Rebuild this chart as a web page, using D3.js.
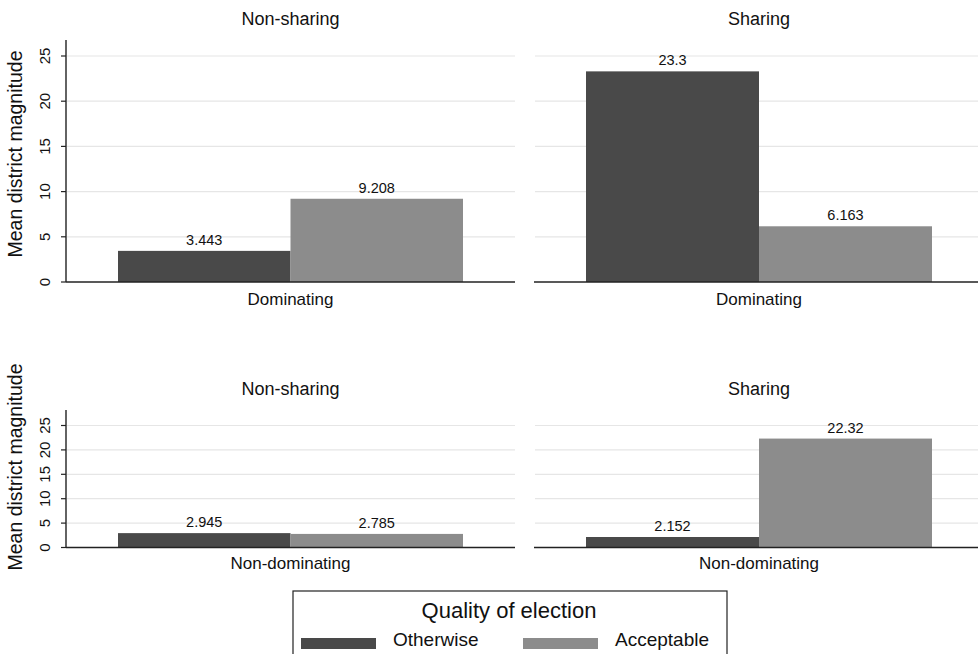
<!DOCTYPE html>
<html>
<head>
<meta charset="utf-8">
<script src="https://cdn.jsdelivr.net/npm/d3@7"></script>
<style>
  body { margin: 0; background: #fff; }
  text { font-family: "Liberation Sans", Arial, sans-serif; fill: #111; }
</style>
</head>
<body>
<div id="chart"></div>
<script>
// data
let rowLabels = ['Dominating', 'Non-dominating'];
let colLabels = ['Non-sharing', 'Sharing'];
let seriesNames = ['Otherwise', 'Acceptable'];
let otherwiseValues = [[3.443, 23.3], [2.945, 2.152]];
let acceptableValues = [[9.208, 6.163], [2.785, 22.32]];
let yTicks = [0, 5, 10, 15, 20, 25];
let valueText = [['3.443', '23.3', '2.945', '2.152'], ['9.208', '6.163', '2.785', '22.32']];

let colors = {'Otherwise': '#494949', 'Acceptable': '#8c8c8c'};

let width = 978, height = 654;
let svg = d3.select('#chart').append('svg').attr('width', width).attr('height', height);

// panel geometry (pixels)
let panelCols = [{x0: 66, x1: 515}, {x0: 534, x1: 984}];
let panelRows = [
  {base: 282, y25: 56, top: 40, title: 24.5, cat: 305, ylab: 154},
  {base: 547.5, y25: 425.5, top: 410, title: 395, cat: 569, ylab: 467}
];
let inner = 52;

panelRows.forEach((pr, ri) => {
  let y = d3.scaleLinear().domain([0, 25]).range([pr.base, pr.y25]);

  // y label
  svg.append('text')
    .attr('transform', 'translate(' + [22, pr.ylab] + ') rotate(-90)')
    .attr('text-anchor', 'middle')
    .style('font-size', '19.5px')
    .text('Mean district magnitude');

  panelCols.forEach((pc, ci) => {
    let g = svg.append('g');
    let x = d3.scaleBand().domain(seriesNames).range([pc.x0 + inner, pc.x1 - inner]).padding(0);

    // grid
    g.selectAll('.grid').data(yTicks.filter(d => d > 0)).enter().append('line')
      .attr('x1', pc.x0 + 1).attr('x2', pc.x1)
      .attr('y1', d => y(d)).attr('y2', d => y(d))
      .attr('stroke', '#e6e6e6').attr('stroke-width', 1.2);

    let vals = [otherwiseValues[ri][ci], acceptableValues[ri][ci]];
    let labs = [valueText[0][ri * 2 + ci], valueText[1][ri * 2 + ci]];

    g.selectAll('.bar').data(seriesNames).enter().append('rect')
      .attr('x', d => x(d))
      .attr('width', x.bandwidth())
      .attr('y', (d, i) => y(vals[i]))
      .attr('height', (d, i) => pr.base - y(vals[i]))
      .attr('fill', d => colors[d]);

    g.selectAll('.val').data(seriesNames).enter().append('text')
      .attr('x', d => x(d) + x.bandwidth() / 2)
      .attr('y', (d, i) => y(vals[i]) - 6)
      .attr('text-anchor', 'middle')
      .style('font-size', '14.5px')
      .text((d, i) => labs[i]);

    // baseline
    g.append('line').attr('x1', pc.x0).attr('x2', pc.x1)
      .attr('y1', pr.base).attr('y2', pr.base)
      .attr('stroke', '#222').attr('stroke-width', 1.4);

    if (ci == 0) {
      g.append('line').attr('x1', pc.x0).attr('x2', pc.x0)
        .attr('y1', pr.top).attr('y2', pr.base)
        .attr('stroke', '#222').attr('stroke-width', 1.4);
      g.selectAll('.tick').data(yTicks).enter().append('line')
        .attr('x1', pc.x0 - 5).attr('x2', pc.x0)
        .attr('y1', d => y(d)).attr('y2', d => y(d))
        .attr('stroke', '#222').attr('stroke-width', 1.2);
      g.selectAll('.tl').data(yTicks).enter().append('text')
        .attr('transform', d => 'translate(' + [pc.x0 - 16, y(d)] + ') rotate(-90)')
        .attr('text-anchor', 'middle')
        .style('font-size', '15px')
        .text(d => d);
    }

    // panel title
    svg.append('text')
      .attr('x', (pc.x0 + pc.x1) / 2).attr('y', pr.title)
      .attr('text-anchor', 'middle')
      .style('font-size', '18px')
      .text(colLabels[ci]);

    // category label
    svg.append('text')
      .attr('x', (pc.x0 + pc.x1) / 2).attr('y', pr.cat)
      .attr('text-anchor', 'middle')
      .style('font-size', '17px')
      .text(rowLabels[ri]);
  });
});

// legend
let lg = svg.append('g');
lg.append('rect').attr('x', 293).attr('y', 591).attr('width', 434).attr('height', 80)
  .attr('fill', '#fff').attr('stroke', '#222').attr('stroke-width', 1.2);
lg.append('text').attr('x', 509).attr('y', 618).attr('text-anchor', 'middle')
  .style('font-size', '22px').text('Quality of election');
let legendX = [301, 523];
seriesNames.forEach((s, i) => {
  lg.append('rect').attr('x', legendX[i]).attr('y', 638).attr('width', 75).attr('height', 11)
    .attr('fill', colors[s]);
  lg.append('text').attr('x', legendX[i] + 92).attr('y', 646)
    .style('font-size', '19px').text(s);
});
</script>
</body>
</html>
